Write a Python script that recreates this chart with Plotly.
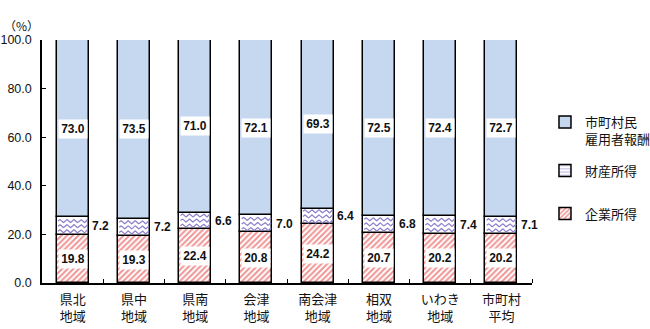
import numpy as np
import plotly.graph_objects as go

# Data: composition of municipal income by region (%)
regions = ["県北<br>地域", "県中<br>地域", "県南<br>地域", "会津<br>地域",
           "南会津<br>地域", "相双<br>地域", "いわき<br>地域", "市町村<br>平均"]
kigyo = [19.8, 19.3, 22.4, 20.8, 24.2, 20.7, 20.2, 20.2]      # 企業所得
zaisan = [7.2, 7.2, 6.6, 7.0, 6.4, 6.8, 7.4, 7.1]             # 財産所得
koyo = [73.0, 73.5, 71.0, 72.1, 69.3, 72.5, 72.4, 72.7]       # 市町村民雇用者報酬
y_ticks = [0, 20, 40, 60, 80, 100]

FONT = "Liberation Sans, Arial, Noto Sans CJK JP"
JP = "Noto Sans CJK JP, Liberation Sans"
BLUE = "#c6d8ef"
RED = "#e02a2a"
PURPLE = "#8c7dcc"
BAR_W = 0.52

x = np.arange(len(regions))
base_z = np.array(kigyo)
base_k = base_z + np.array(zaisan)

fig = go.Figure()

line = dict(color="black", width=1.5)

fig.add_trace(go.Bar(
    x=x, y=kigyo, width=BAR_W, name="企業所得", legend="legend3",
    marker=dict(color="white", line=line,
                pattern=dict(shape="/", fgcolor=RED, bgcolor="white",
                             size=4, solidity=0.5)),
))
fig.add_trace(go.Bar(
    x=x, y=zaisan, base=base_z, width=BAR_W, showlegend=False,
    marker=dict(color="white", line=line),
))
fig.add_trace(go.Bar(
    x=x, y=koyo, base=base_k, width=BAR_W, name="市町村民<br>雇用者報酬",
    legend="legend",
    marker=dict(color=BLUE, line=line),
))

# wavy fill for 財産所得 segments
wx, wy = [], []
spacing, amp, period = 2.1, 0.6, 0.115
for i in range(len(regions)):
    y0, h = kigyo[i], zaisan[i]
    n = int(h // spacing)
    start = y0 + (h - (n - 1) * spacing) / 2
    xs = np.linspace(i - BAR_W / 2 + 0.02, i + BAR_W / 2 - 0.02, 60)
    for k in range(n):
        lvl = start + k * spacing
        wx += list(xs) + [None]
        wy += list(lvl + amp * np.sin(2 * np.pi * (xs - xs[0]) / period)) + [None]
fig.add_trace(go.Scatter(x=wx, y=wy, mode="lines", showlegend=False,
                         line=dict(color=PURPLE, width=1.2), hoverinfo="skip"))

# legend entry for 財産所得
fig.add_trace(go.Bar(
    x=[None], y=[None], name="財産所得", legend="legend2",
    marker=dict(color="white", line=line,
                pattern=dict(shape="-", fgcolor=PURPLE, bgcolor="white",
                             size=4, solidity=0.35)),
))

# value labels
lab_font = dict(family=FONT, size=12, color="#111", weight="bold")
ann = []
for i in range(len(regions)):
    ann.append(dict(x=i, y=base_k[i] + koyo[i] / 2, text=f"{koyo[i]:.1f}",
                    showarrow=False, bgcolor="white", width=28, height=18,
                    borderpad=0, font=lab_font))
    ann.append(dict(x=i, y=kigyo[i] / 2, text=f"{kigyo[i]:.1f}",
                    showarrow=False, bgcolor="white", width=28, height=18,
                    borderpad=0, font=lab_font))
    ann.append(dict(x=i + 0.46, y=kigyo[i] + zaisan[i] / 2,
                    text=f"{zaisan[i]:.1f}", showarrow=False, font=lab_font))
ann.append(dict(xref="paper", yref="paper", x=-0.041, y=1.103, text="（%）",
                showarrow=False, xanchor="center",
                font=dict(family=JP, size=12, color="#111")))

legend_common = dict(font=dict(family=JP, size=13, color="#111"),
                     bgcolor="rgba(0,0,0,0)", xanchor="left", valign="top",
                     itemwidth=30)

fig.update_layout(
    width=650, height=329,
    margin=dict(l=42, r=118, t=40, b=46, autoexpand=False),
    plot_bgcolor="white", paper_bgcolor="white",
    barmode="overlay", bargap=0,
    annotations=ann,
    legend=dict(x=1.0265, y=0.724, yanchor="top", **legend_common),
    legend2=dict(x=1.0265, y=0.463, yanchor="middle", **legend_common),
    legend3=dict(x=1.0265, y=0.286, yanchor="middle", **legend_common),
    xaxis=dict(range=[-0.5, 7.5], tickvals=list(x), ticktext=regions,
               ticks="", showline=True, linecolor="black", linewidth=1.5,
               showgrid=False, zeroline=False, automargin=False,
               ticklabelstandoff=4,
               tickfont=dict(family=JP, size=13, color="#111"),
               minor=dict(tickvals=[i + 0.5 for i in range(len(regions))],
                          ticks="inside", ticklen=4, tickcolor="black",
                          tickwidth=1.2, showgrid=False)),
    yaxis=dict(range=[0, 100], tickvals=y_ticks, tickformat=".1f",
               ticks="inside", ticklen=4, tickcolor="black", tickwidth=1.2,
               showline=True, linecolor="black", linewidth=1.5,
               showgrid=False, zeroline=False, ticklabelstandoff=6,
               automargin=False,
               tickfont=dict(family=FONT, size=12.5, color="#111")),
)

fig.write_html("out.html")
